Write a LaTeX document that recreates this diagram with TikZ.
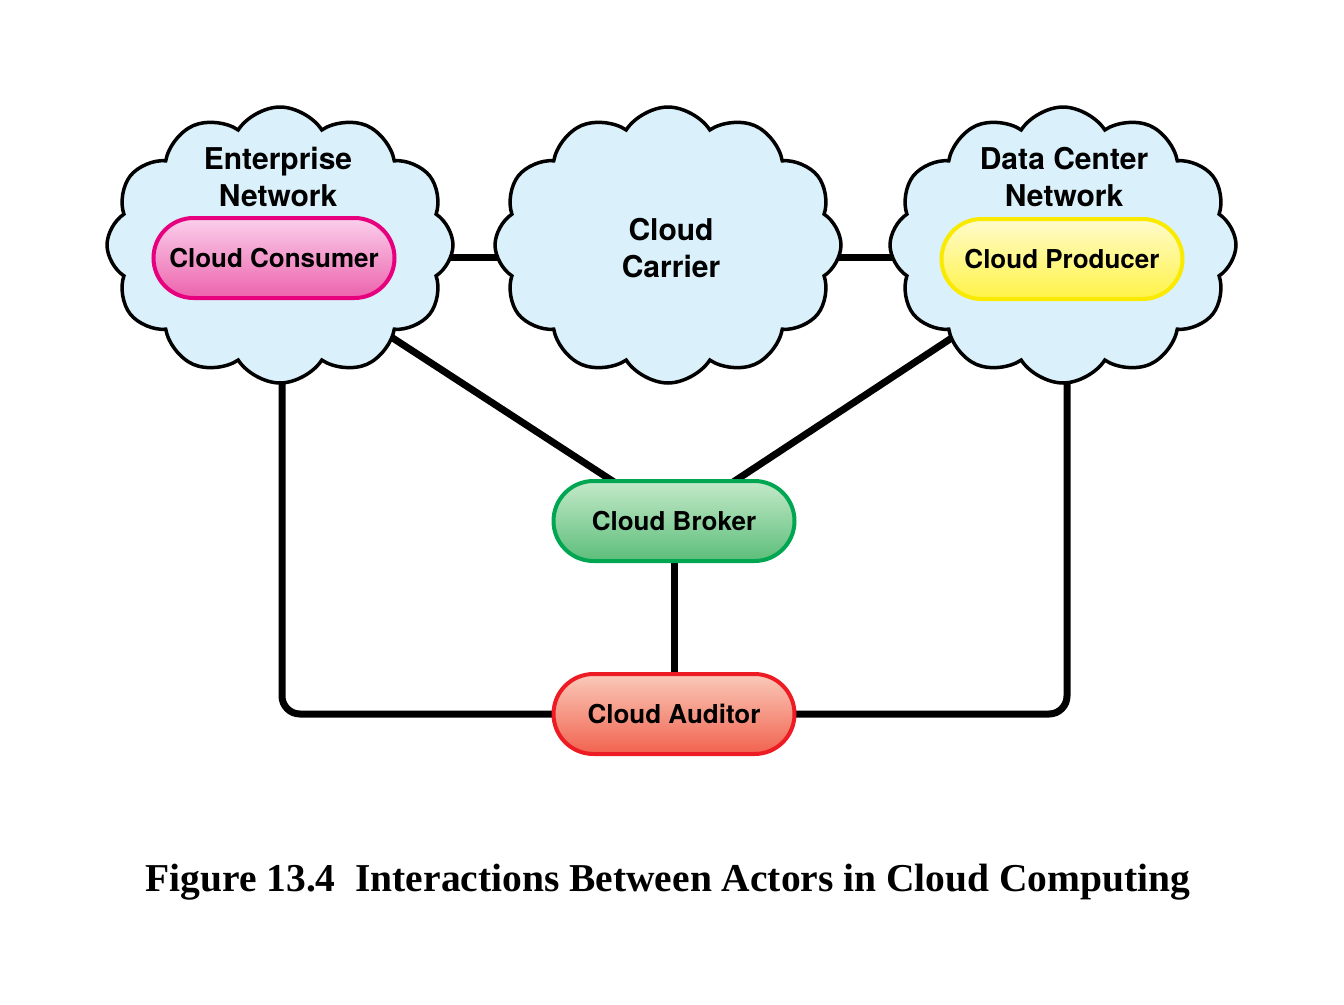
\documentclass[tikz,border=0pt]{standalone}
\usepackage{fontspec}
\setsansfont{TeX Gyre Heros}
\newfontfamily\capfont{Liberation Serif}
\usetikzlibrary{shapes.symbols,shapes.misc,backgrounds}
\definecolor{skyfill}{RGB}{218,240,250}
\definecolor{consline}{RGB}{230,0,126}
\definecolor{constop}{RGB}{251,208,236}
\definecolor{consbot}{RGB}{236,98,172}
\definecolor{prodline}{RGB}{250,234,0}
\definecolor{prodtop}{RGB}{255,251,204}
\definecolor{prodbot}{RGB}{255,243,70}
\definecolor{brokline}{RGB}{0,166,81}
\definecolor{broktop}{RGB}{196,233,201}
\definecolor{brokbot}{RGB}{92,190,122}
\definecolor{audline}{RGB}{237,28,36}
\definecolor{audtop}{RGB}{250,202,186}
\definecolor{audbot}{RGB}{241,98,78}
\begin{document}
\begin{tikzpicture}[x=1pt,y=-1pt]

      \tikzset{sky/.style={draw, line width=3.5pt, fill=skyfill, cloud, cloud puffs=12, cloud puff arc=115, aspect=1.25, minimum width=346pt, minimum height=276pt, inner sep=0pt, font=\sffamily\bfseries\fontsize{30}{37}\selectfont, align=center},
               actor/.style={rounded rectangle, line width=4pt, minimum width=241pt, minimum height=80pt, inner sep=0pt, font=\sffamily\bfseries\fontsize{26}{31}\selectfont},
               link/.style={line width=7pt}}
      \useasboundingbox (0,0) rectangle (1344,1004);
%% Clouds
      	\node[sky] (ent) at (280,245) {};
      	\node[sky] (carrier) at (668,245) {};
      	\node[sky] (dc) at (1063,245) {};
      	\node[font=\sffamily\bfseries\fontsize{30}{37}\selectfont, align=center] (entlbl) at (278,177) {Enterprise\\Network};
      	\node[font=\sffamily\bfseries\fontsize{30}{37}\selectfont, align=center] (carrlbl) at (671,248) {Cloud\\Carrier};
      	\node[font=\sffamily\bfseries\fontsize{30}{37}\selectfont, align=center] (dclbl) at (1064,177) {Data Center\\Network};
%% Actors
      	\node[actor, draw=consline, top color=constop, bottom color=consbot] (consumer) at (274,258) {Cloud Consumer};
      	\node[actor, draw=prodline, top color=prodtop, bottom color=prodbot] (producer) at (1062,259) {Cloud Producer};
      	\node[actor, draw=brokline, top color=broktop, bottom color=brokbot] (broker) at (674,521) {Cloud Broker};
      	\node[actor, draw=audline, top color=audtop, bottom color=audbot] (auditor) at (674,714) {Cloud Auditor};
      	\coordinate (enthub) at (282,266);
      	\coordinate (dchub) at (1067,262);
%Links
      \begin{scope}[on background layer]
		\draw[link] ([yshift=-12pt]ent.center) -- ([yshift=-12pt]carrier.center);
		\draw[link] ([yshift=-12pt]carrier.center) -- ([yshift=-12pt]dc.center);
		\draw[link] (enthub) -- (broker.center);
		\draw[link] (dchub) -- (broker.center);
		\draw[link] (broker) -- (auditor);
		\draw[link, rounded corners=18pt] (enthub) |- (auditor.center);
		\draw[link, rounded corners=18pt] (dchub) |- (auditor.center);
      \end{scope}
%Caption
		\node[font=\capfont\bfseries\fontsize{39.5}{46}\selectfont] (caption) at (668,882) {Figure 13.4~~Interactions Between Actors in Cloud Computing};

	\end{tikzpicture}
\end{document}
